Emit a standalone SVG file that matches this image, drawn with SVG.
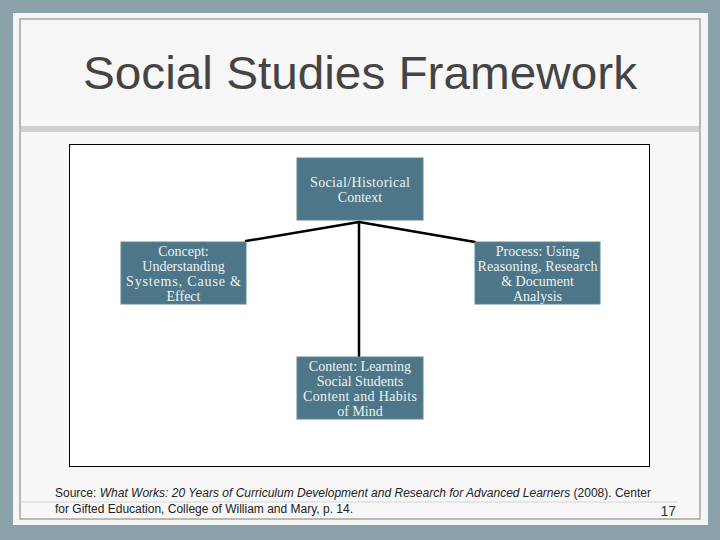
<svg xmlns="http://www.w3.org/2000/svg" width="720" height="540" viewBox="0 0 720 540">
<style>
.node rect{fill:#4d7688;stroke:#5f8595;stroke-width:1}
.node text{font-family:"Liberation Serif","Times New Roman",serif;font-size:14px;fill:#eef3f5;text-anchor:middle}
.conn line{stroke:#000;stroke-width:2.5;stroke-linecap:round}
.foot{font-family:"Liberation Sans",Arial,sans-serif;font-size:12px;fill:#222}
</style>
<rect x="0" y="0" width="720" height="540" fill="#8aa0ab"/>
<rect x="13" y="13" width="695" height="512" fill="#f5f5f5"/>
<rect x="20" y="19" width="680" height="500" fill="#f7f7f7" stroke="#b9bab2" stroke-width="2"/>
<rect x="21" y="126" width="678" height="6" fill="#cfd1d2"/>
<text x="360" y="89" text-anchor="middle" font-family="'Liberation Sans',Arial,sans-serif" font-size="46" fill="#444" textLength="554" lengthAdjust="spacingAndGlyphs">Social Studies Framework</text>
<rect x="69.5" y="144.5" width="580" height="322" fill="#fff" stroke="#000" stroke-width="1"/>
<g class="conn">
<line x1="246" y1="241" x2="359" y2="222"/>
<line x1="359" y1="222" x2="475" y2="242"/>
<line x1="359" y1="222" x2="359" y2="356"/>
</g>
<g id="n-context" class="node">
<rect x="297" y="158" width="126" height="62"/>
<text x="360" y="187" textLength="100">Social/Historical</text>
<text x="360" y="202">Context</text>
</g>
<g id="n-concept" class="node">
<rect x="121" y="242" width="125" height="62"/>
<text x="183.5" y="256">Concept:</text>
<text x="183.5" y="271">Understanding</text>
<text x="183.5" y="286" textLength="115">Systems, Cause &amp;</text>
<text x="183.5" y="301">Effect</text>
</g>
<g id="n-process" class="node">
<rect x="475" y="242" width="125" height="62"/>
<text x="537.5" y="256">Process: Using</text>
<text x="537.5" y="271" textLength="120">Reasoning, Research</text>
<text x="537.5" y="286">&amp; Document</text>
<text x="537.5" y="301">Analysis</text>
</g>
<g id="n-content" class="node">
<rect x="297" y="357" width="126" height="62"/>
<text x="360" y="371">Content: Learning</text>
<text x="360" y="386">Social Students</text>
<text x="360" y="401" textLength="114">Content and Habits</text>
<text x="360" y="416">of Mind</text>
</g>
<line x1="20" y1="502" x2="678" y2="502" stroke="#d5d5d5" stroke-width="1"/>
<text class="foot" x="55" y="497" textLength="596" lengthAdjust="spacingAndGlyphs">Source: <tspan font-style="italic">What Works: 20 Years of Curriculum Development and Research for Advanced Learners</tspan> (2008). Center</text>
<text class="foot" x="55" y="513" textLength="298" lengthAdjust="spacingAndGlyphs">for Gifted Education, College of William and Mary, p. 14.</text>
<text x="676" y="516" text-anchor="end" font-family="'Liberation Sans',Arial,sans-serif" font-size="14" fill="#333">17</text>
</svg>
